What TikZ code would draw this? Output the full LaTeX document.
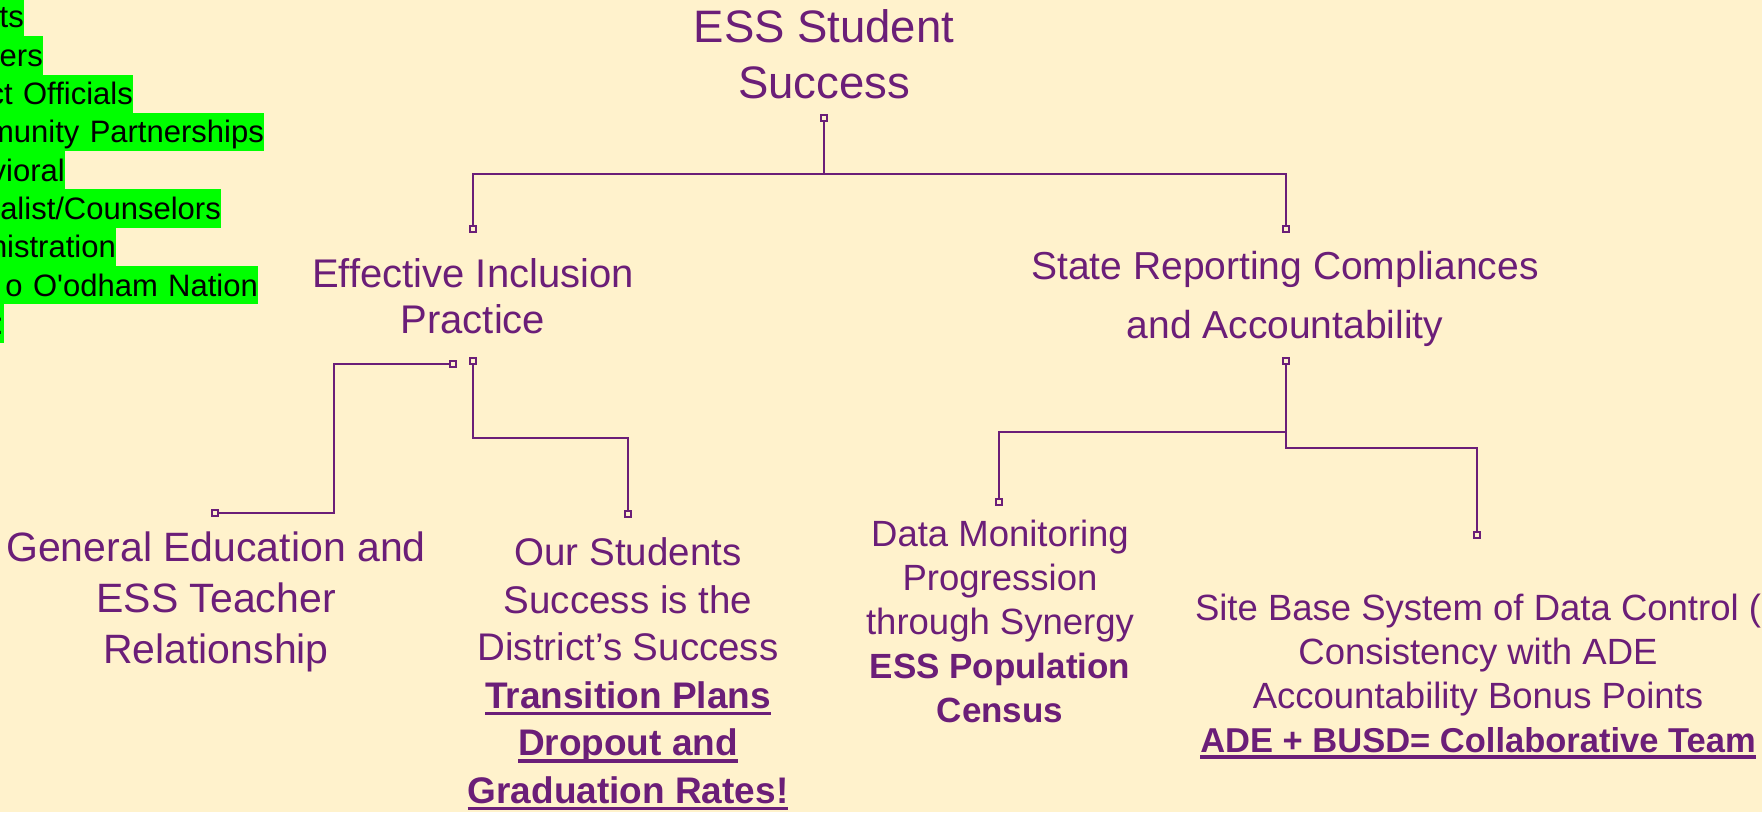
\documentclass[tikz,border=0pt]{standalone}
\usepackage{fontspec}
\setmainfont{Liberation Sans}
\usepackage{tikz}
\usetikzlibrary{positioning,calc}

\definecolor{bgcream}{HTML}{FFF2CC}
\definecolor{ink}{HTML}{6B1E78}
\definecolor{hlgreen}{HTML}{00FF00}

\newcommand\fsz[2]{\fontsize{#1}{#2}\selectfont}
\newcommand\undl[1]{\setbox0=\hbox{#1}\rlap{\rule[-0.19em]{\wd0}{0.09em}}\box0}

\begin{document}
\begin{tikzpicture}[
    x=1pt, y=-1pt,
    topic/.style={text=ink, align=center, anchor=base, inner sep=0pt},
    hl/.style={fill=hlgreen, text=black, anchor=north east, inner sep=0pt,
               text width=300pt, align=right,
               text height=30pt, text depth=8.3pt, font=\fsz{31}{38}},
    knob/.style={draw=ink, fill=bgcream, line width=1.8pt, minimum size=6.5pt,
                 inner sep=0pt},
    link/.style={draw=ink, line width=2pt},
  ]
  \useasboundingbox (0,0) rectangle (1762,812);
  \fill[bgcream] (0,0) rectangle (1762,812);
  \clip (0,0) rectangle (1762,812);

  % ============================== Highlighted list ========================
  \foreach \k/\xr/\txt in {0/24/ts, 1/43/ers, 2/133/ct Officials,
      3/264/munity Partnerships, 4/65/vioral, 5/221/{alist/Counselors},
      6/116/nistration, 7/258/o O\textquotesingle odham Nation, 8/4/:} {
    \node[hl] (row\k) at (\xr,{-2.3+38.3*\k}) {\txt};
  }

  % ============================== Topics ==================================
  % each topic sits on the baseline of its last line
  \node[topic, font=\fsz{45.5}{56}] (root) at (824,98) {ESS Student\\Success};
  \node[topic, font=\fsz{40}{46}] (incl) at (473,333)
    {Effective Inclusion\\Practice};
  \node[topic, font=\fsz{39}{59}] (state) at (1285,338)
    {State Reporting Compliances\\and Accountability};

  \node[topic, font=\fsz{41}{51}] (genedu) at (216,663)
    {General Education and\\ESS Teacher\\Relationship};
  \node[topic, font=\fsz{38.5}{47.5}] (oursucc) at (628,803)
    {Our Students\\Success is the\\District’s Success\\
     {\fsz{37}{47.5}\bfseries\undl{Transition Plans}}\\
     {\fsz{37}{47.5}\bfseries\undl{Dropout and}}\\
     {\fsz{37}{47.5}\bfseries\undl{Graduation Rates!}}};
  \node[topic, font=\fsz{36.5}{44}] (datamon) at (1000,722)
    {Data Monitoring\\Progression\\through Synergy\\
     {\fsz{35}{44}\bfseries ESS Population}\\
     {\fsz{35}{44}\bfseries Census}};
  \node[topic, font=\fsz{36.5}{44}] (sitebase) at (1478,752)
    {Site Base System of Data Control (\\Consistency with ADE\\
     Accountability Bonus Points\\
     {\fsz{34.5}{44}\bfseries\undl{ADE + BUSD= Collaborative Team}}};

  % ============================== Connectors ==============================
  \node[knob] (rootk)   at (824,118)  {};
  \node[knob] (inclk)   at (473,229)  {};
  \node[knob] (statek)  at (1286,229) {};
  \node[knob] (inclka)  at (453,364)  {};
  \node[knob] (inclkb)  at (473,361)  {};
  \node[knob] (genk)    at (215,513)  {};
  \node[knob] (ourk)    at (628,514)  {};
  \node[knob] (statekb) at (1286,361) {};
  \node[knob] (datak)   at (999,502)  {};
  \node[knob] (sitek)   at (1477,535) {};

  \draw[link] (rootk) |- ($(rootk)!.5!(inclk)$) -| (inclk);
  \draw[link] (rootk) |- ($(rootk)!.5!(statek)$) -| (statek);
  \draw[link] (inclka) -| ($(inclka)!.5!(genk)$) |- (genk);
  \draw[link] (inclkb) |- ($(inclkb)!.5!(ourk)$) -| (ourk);
  \draw[link] (statekb) |- ($(statekb)!.5!(datak)$) -| (datak);
  \draw[link] (statekb) |- ($(statekb)!.5!(sitek)$) -| (sitek);
\end{tikzpicture}
\end{document}
